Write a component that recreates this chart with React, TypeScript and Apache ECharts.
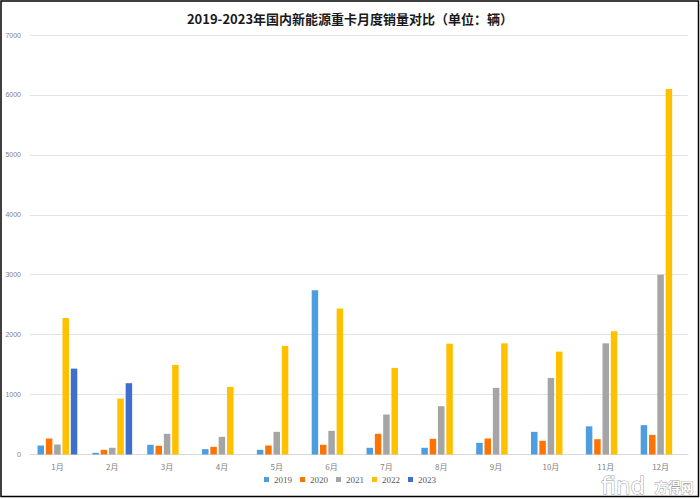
import React, { useEffect, useRef } from "react";
import * as echarts from "echarts";

const months = ["1月", "2月", "3月", "4月", "5月", "6月", "7月", "8月", "9月", "10月", "11月", "12月"];
const years = ["2019", "2020", "2021", "2022", "2023"];
const s2019 = [150, 28, 162, 90, 78, 2742, 112, 112, 195, 378, 470, 490];
const s2020 = [267, 78, 145, 128, 150, 162, 345, 262, 267, 228, 255, 327];
const s2021 = [167, 112, 345, 295, 378, 395, 667, 806, 1112, 1278, 1855, 3000];
const s2022 = [2278, 933, 1495, 1128, 1812, 2437, 1445, 1850, 1855, 1717, 2057, 6100];
const s2023 = [1433, 1190, null, null, null, null, null, null, null, null, null, null];
const colors = ["#4E9DDE", "#FF7300", "#A5A5A5", "#FFC000", "#3F6FCB"];

export default function App() {
  const ref = useRef<HTMLDivElement>(null);
  useEffect(() => {
    if (!ref.current) return;
    const chart = echarts.init(ref.current, undefined, { renderer: "svg" });
    const allSeries = [s2019, s2020, s2021, s2022, s2023];
    chart.setOption({
      animation: false,
      backgroundColor: "#ffffff",
      color: colors,
      title: {
        text: "2019-2023年国内新能源重卡月度销量对比（单位：辆）",
        left: "center",
        top: 7,
        textStyle: {
          fontSize: 13,
          fontWeight: "bold",
          color: "#1a1a1a",
          fontFamily: "Noto Sans CJK SC",
        },
      },
      legend: {
        bottom: 10,
        left: "center",
        itemWidth: 5,
        itemHeight: 5,
        itemGap: 8,
        icon: "rect",
        textStyle: { fontSize: 9, color: "#595959", fontFamily: "Liberation Serif" },
        data: years,
      },
      grid: { left: 30, right: 12, top: 35, bottom: 44.5 },
      xAxis: {
        type: "category",
        data: months,
        axisLine: { lineStyle: { color: "#D9D9D9", width: 1 } },
        axisTick: { show: false },
        axisLabel: {
          fontSize: 8,
          color: "#7F7F7F",
          margin: 8,
          fontFamily: "Noto Sans CJK SC",
        },
      },
      yAxis: {
        type: "value",
        min: 0,
        max: 7000,
        interval: 1000,
        axisLine: { show: false },
        axisTick: { show: false },
        axisLabel: {
          fontSize: 7,
          color: "#7F7F7F",
          margin: 9,
          fontFamily: "Liberation Sans",
          formatter: (v: number) => String(v),
        },
        splitLine: { lineStyle: { color: "#E3E3E3", width: 1 } },
      },
      series: years.map((y, i) => ({
        name: y,
        type: "bar",
        data: allSeries[i],
        barWidth: 6.5,
        barGap: "28%",
        itemStyle: { color: colors[i] },
      })),
      graphic: [
        {
          type: "rect",
          shape: { x: 1, y: 1, width: 697.5, height: 495.5 },
          style: { fill: "none", stroke: "#000", lineWidth: 1.5 },
          silent: true,
        },
        {
          type: "text",
          left: 601,
          top: 474,
          style: {
            text: "find",
            fontSize: 23,
            fontFamily: "DejaVu Sans",
            fill: "#ffffff",
            stroke: "#9a9a9a",
            lineWidth: 1,
          },
          silent: true,
        },
        {
          type: "text",
          left: 654,
          top: 480,
          style: {
            text: "方得网",
            fontSize: 13,
            fontWeight: "bold",
            fontFamily: "Noto Sans CJK SC",
            fill: "#ffffff",
            stroke: "#9a9a9a",
            lineWidth: 0.8,
          },
          silent: true,
        },
      ],
    });
    return () => chart.dispose();
  }, []);
  return (
    <div
      ref={ref}
      style={{ position: "fixed", left: 0, top: 0, width: 700, height: 499 }}
    />
  );
}
